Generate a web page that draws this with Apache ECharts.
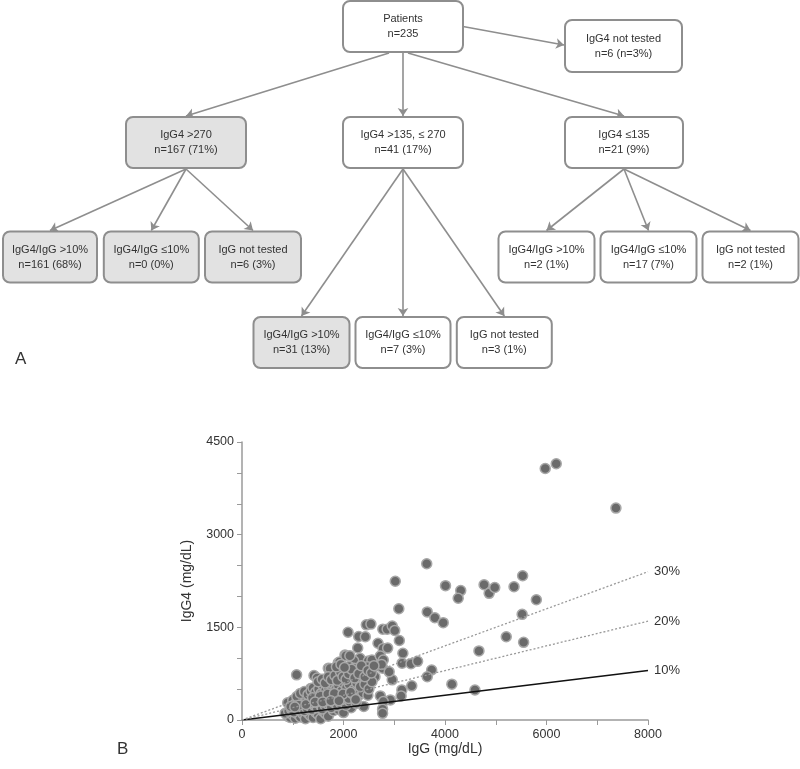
<!DOCTYPE html>
<html><head><meta charset="utf-8">
<script src="https://cdn.jsdelivr.net/npm/echarts@6/dist/echarts.min.js"></script>
<style>html,body{margin:0;padding:0;background:#fff}#c{width:800px;height:769px}</style>
</head><body><div id="c"></div>
<script>
// ---------- Panel A: flowchart content ----------
const nodeTitles = ['Patients','IgG4 not tested','IgG4 >270','IgG4 >135, \u2264 270','IgG4 \u2264135',
  'IgG4/IgG >10%','IgG4/IgG \u226410%','IgG not tested',
  'IgG4/IgG >10%','IgG4/IgG \u226410%','IgG not tested',
  'IgG4/IgG >10%','IgG4/IgG \u226410%','IgG not tested'];
const nodeCounts = ['n=235','n=6 (n=3%)','n=167 (71%)','n=41 (17%)','n=21 (9%)',
  'n=161 (68%)','n=0 (0%)','n=6 (3%)',
  'n=31 (13%)','n=7 (3%)','n=3 (1%)',
  'n=2 (1%)','n=17 (7%)','n=2 (1%)'];
const edgeFrom = [0,0,0,0,2,2,2,3,3,3,4,4,4];
const edgeTo   = [1,2,3,4,5,6,7,8,9,10,11,12,13];

// ---------- Panel B: data ----------
const patientPoints = [
  // readable, spread-out points
  [3640,2530],[3020,2245],[3090,1800],[4010,2175],[4310,2095],[4260,1970],[4770,2190],[4870,2050],
  [4980,2145],[5360,2157],[5530,2335],[5800,1947],[5520,1710],[5207,1348],[5549,1257],[4669,1118],
  [4590,485],[5975,4072],[6192,4147],[7368,3430],[3650,1750],[3800,1655],[3965,1576],[2090,1420],
  [2450,1540],[2540,1552],[2300,1352],[2430,1348],[2775,1470],[2860,1470],[2960,1520],[3010,1450],
  [3100,1287],[2680,1243],[2280,1165],[2780,1159],[2870,1164],[3170,1080],[3155,920],[3330,910],
  [3460,950],[2325,998],[2489,955],[2560,971],[2725,1035],[2784,971],[3737,809],[3650,700],
  [3345,553],[4135,580],[2960,650],[3150,487],[3135,390],[2924,325],[2726,390],[2785,298],
  [2770,175],[2770,108],[2580,839],[2772,839],[2750,900],[2470,860],[2380,780],[2620,700],
  [2900,780],[2200,960],
  [1076,731],[1419,720],[1480,680],[1353,509],[1700,836],[1897,927],[2029,1052],[1736,834],
  [1881,839],[1921,937],[2046,1040],[2125,1040],[2112,866],[2211,839],
  // dense cluster
  [900,60],[950,40],[1000,80],[1050,30],[1100,95],[1150,50],[1200,100],[1250,20],[1300,110],
  [1350,70],[1400,40],[1450,125],[1500,90],[1550,20],[1600,140],[1650,100],[1700,60],[1800,150],
  [1900,170],[2000,120],[2150,200],[2400,220],
  [850,110],[920,140],[980,170],[1020,130],[1080,200],[1130,160],[1180,210],[1230,150],[1280,190],
  [1330,230],[1380,170],[1420,240],[1480,200],[1530,260],[1580,180],[1640,230],[1700,250],[1760,200],
  [1820,280],[1880,230],[1950,260],[2050,240],[2120,300],[2250,270],
  [900,280],[1000,320],[1050,260],[1100,350],[1170,290],[1220,330],[1270,300],[1320,380],[1370,280],
  [1430,340],[1470,400],[1520,310],[1560,360],[1610,330],[1650,400],[1720,320],[1780,380],[1830,340],
  [1900,400],[1960,330],[2020,380],[2100,350],[2180,420],[2280,380],[2380,440],[2480,400],
  [1080,380],[1150,430],[1230,460],[1300,410],[1360,470],[1400,520],[1450,450],[1510,500],[1560,430],
  [1600,560],[1650,480],[1700,530],[1750,450],[1800,590],[1850,500],[1900,560],[1960,470],[2000,600],
  [2060,520],[2110,580],[2200,490],[2260,600],[2330,540],[2420,580],[2500,500],[2560,620],
  [1500,620],[1580,660],[1640,600],[1700,700],[1760,650],[1830,720],[1880,640],[1940,780],[1990,700],
  [2050,660],[2100,750],[2160,820],[2220,680],[2300,750],[2350,880],[2420,700],[2480,800],[2550,760],
  [2600,880],[1860,860],[1950,900],[2020,850],
  [1120,240],[1260,250],[1390,360],[1540,390],[1690,420],[1820,430],[1990,420],[2140,450],[1440,290],
  [1590,290],[960,220],[1040,210],[1750,310],[1910,310],[2240,330]
];
const ratioValues = [0.1, 0.2, 0.3];
const ratioLabels = ['10%', '20%', '30%'];
const xTickLabels = [0, 2000, 4000, 6000, 8000];
const yTickLabels = [0, 1500, 3000, 4500];

// ---------- layout (positions / sizes / styles) ----------
// [centerX, centerY, width, height, shaded] in flowchart pixel space
const nodeLayout = [
  [403,26.5,120,51,0],[623.5,46,117,52,0],
  [186,142.5,120,51,1],[403,142.5,120,51,0],[624,142.5,118,51,0],
  [50,257,94,51,1],[151.3,257,95,51,1],[253,257,96,51,1],
  [301.5,342.5,96,51,1],[403,342.5,95,51,0],[504.3,342.5,95,51,0],
  [546.5,257,96,51,0],[648.5,257,96,51,0],[750.5,257,96,51,0]
];
const edgeStartShift = [0,-14,0,5,0,0,0,0,0,0,0,0,0];
const FONT = 'Liberation Sans, Arial, sans-serif';

const edgeData = edgeFrom.map((f, k) => {
  const a = nodeLayout[f], b = nodeLayout[edgeTo[k]];
  if (b[1] - b[3] / 2 < a[1] + a[3] / 2) {
    return {coords: [[a[0] + a[2] / 2, a[1]], [b[0] - b[2] / 2 - 1, b[1] - 1]]};
  }
  return {coords: [[a[0] + edgeStartShift[k], a[1] + a[3] / 2 + 1], [b[0], b[1] - b[3] / 2 - 1]]};
});

const chart = echarts.init(document.getElementById('c'), null, {renderer: 'canvas'});
const axisGray = '#9a9a9a';
const option = {
  animation: false,
  backgroundColor: '#fff',
  grid: [
    {left: 242, top: 442, width: 406, height: 278},
    {left: 0, top: 0, width: 800, height: 400}
  ],
  xAxis: [
    {gridIndex: 0, type: 'value', min: 0, max: 8000, interval: 1000,
      name: 'IgG (mg/dL)', nameLocation: 'middle', nameGap: 22,
      nameTextStyle: {fontSize: 14, color: '#333', fontFamily: FONT},
      axisLine: {lineStyle: {color: axisGray, width: 1.5}},
      axisTick: {length: 5, lineStyle: {color: axisGray, width: 1}},
      axisLabel: {formatter: v => xTickLabels.indexOf(v) >= 0 ? String(v) : '', fontSize: 12.5, color: '#333', margin: 8, fontFamily: FONT},
      splitLine: {show: false}},
    {gridIndex: 1, type: 'value', min: 0, max: 800, show: false}
  ],
  yAxis: [
    {gridIndex: 0, type: 'value', min: 0, max: 4500, interval: 500,
      name: 'IgG4 (mg/dL)', nameLocation: 'middle', nameGap: 48, nameRotate: 90,
      nameTextStyle: {fontSize: 14, color: '#333', fontFamily: FONT},
      axisLine: {show: true, lineStyle: {color: axisGray, width: 1.5}},
      axisTick: {show: true, length: 5, lineStyle: {color: axisGray, width: 1}},
      axisLabel: {formatter: v => yTickLabels.indexOf(v) >= 0 ? String(v) : '', fontSize: 12.5, color: '#333', margin: 8, fontFamily: FONT},
      splitLine: {show: false}},
    {gridIndex: 1, type: 'value', min: 0, max: 400, inverse: true, show: false}
  ],
  graphic: [
    {type: 'text', left: 15, top: 351, style: {text: 'A', font: '17px ' + FONT, fill: '#333'}},
    {type: 'text', left: 117, top: 741, style: {text: 'B', font: '17px ' + FONT, fill: '#333'}}
  ],
  series: [
    {type: 'scatter', xAxisIndex: 0, yAxisIndex: 0, data: patientPoints, symbolSize: 10, z: 2,
      itemStyle: {color: '#6a6a6a', borderColor: '#a8a8a8', borderWidth: 1.5, opacity: 1}},
    ...ratioValues.map((r, i) => ({
      type: 'line', xAxisIndex: 0, yAxisIndex: 0, z: 3, silent: true, showSymbol: false,
      data: [[0, 0], [8000, 8000 * r]],
      lineStyle: i === 0 ? {color: '#111', width: 1.5, type: 'solid'} : {color: '#999', width: 1.3, type: [2, 2]},
      endLabel: {show: true, formatter: ratioLabels[i], distance: 6, fontSize: 13, color: '#333', fontFamily: FONT}
    })),
    {type: 'lines', coordinateSystem: 'cartesian2d', xAxisIndex: 1, yAxisIndex: 1, z: 1,
      data: edgeData, symbol: ['none', 'arrow'], symbolSize: 8,
      lineStyle: {color: '#8e8e8e', width: 1.6, opacity: 1, curveness: 0}},
    {type: 'custom', coordinateSystem: 'cartesian2d', xAxisIndex: 1, yAxisIndex: 1, z: 2,
      data: nodeLayout.map((l, i) => [l[0], l[1], l[2], l[3], i]),
      encode: {x: 0, y: 1},
      renderItem: (params, api) => {
        const i = api.value(4);
        const c = api.coord([api.value(0), api.value(1)]);
        const s = api.size([api.value(2), api.value(3)]);
        const w = Math.abs(s[0]), h = Math.abs(s[1]);
        return {type: 'group', children: [
          {type: 'rect', shape: {x: c[0] - w / 2, y: c[1] - h / 2, width: w, height: h, r: 7},
            style: {fill: nodeLayout[i][4] ? '#e2e2e2' : '#fff', stroke: '#8e8e8e', lineWidth: 2}},
          {type: 'text', style: {text: nodeTitles[i] + '\n' + nodeCounts[i], x: c[0], y: c[1],
            align: 'center', verticalAlign: 'middle', fontSize: 11, fontFamily: FONT, fill: '#333', lineHeight: 15}}
        ]};
      }}
  ]
};
chart.setOption(option);
</script>
</body></html>
